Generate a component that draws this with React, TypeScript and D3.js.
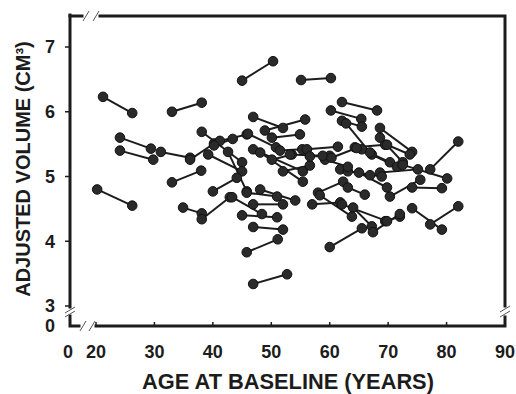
import * as d3 from "d3";

// baseline -> follow-up pairs, one per subject
const baselineAge = [
  21.2, 33.0, 24.1, 24.1, 31.1, 33.0, 20.2, 34.9, 45.0, 55.1, 62.1, 60.2, 62.1, 46.9, 48.9, 50.1,
  38.1, 39.2, 36.1, 41.2, 40.0, 38.1, 43.3, 40.2, 42.6, 46.0, 51.5, 46.9, 48.1, 45.8, 48.1, 46.9,
  45.0, 46.9, 45.8, 46.9, 50.1, 52.0, 56.1, 56.6, 64.3, 65.5, 67.2, 62.8, 68.6, 68.6, 69.8, 77.2,
  72.5, 68.6, 74.1, 70.3, 74.1, 77.2, 69.5, 61.8, 63.1, 58.0, 63.1, 57.0, 62.1, 64.0, 67.4, 60.0,
  58.3, 59.2, 53.2, 60.3, 65.0,
];
const baselineVolume = [
  6.23, 6.0, 5.6, 5.4, 5.38, 4.91, 4.8, 4.52, 6.48, 6.49, 6.15, 6.02, 5.86, 5.92, 5.71, 5.6,
  5.69, 5.34, 5.26, 5.55, 4.77, 4.34, 4.68, 5.48, 5.38, 5.66, 5.4, 5.42, 5.37, 4.75, 4.8, 4.57,
  4.4, 4.22, 3.83, 3.34, 5.26, 5.08, 5.42, 5.31, 5.45, 5.42, 5.34, 5.82, 5.75, 5.6, 5.49, 5.11,
  5.18, 5.06, 4.83, 4.69, 4.51, 4.26, 4.31, 5.11, 5.08, 4.75, 4.83, 4.57, 4.57, 4.52, 4.14, 3.91,
  4.71, 5.26, 5.34, 5.29, 5.06,
];
const followupAge = [
  26.2, 38.1, 29.4, 29.8, 36.1, 38.0, 26.2, 38.1, 50.3, 60.2, 68.1, 65.4, 65.5, 52.0, 55.8, 54.9,
  45.0, 45.0, 40.2, 45.8, 44.1, 42.9, 48.4, 43.4, 45.8, 50.8, 55.3, 55.4, 55.4, 51.0, 54.1, 52.0,
  51.0, 52.0, 51.1, 52.7, 53.5, 56.6, 61.4, 60.0, 69.5, 70.3, 71.5, 66.9, 74.1, 72.5, 73.7, 82.0,
  80.1, 75.1, 79.2, 75.5, 79.2, 82.0, 72.0, 66.9, 68.9, 62.3, 66.0, 61.8, 69.8, 67.2, 72.0, 65.5,
  63.8, 63.1, 58.8, 64.6, 69.8,
];
const followupVolume = [
  5.98, 6.14, 5.43, 5.26, 5.29, 5.09, 4.55, 4.43, 6.78, 6.52, 6.02, 5.89, 5.77, 5.75, 5.88, 5.65,
  5.22, 5.08, 5.51, 5.65, 4.98, 4.68, 4.42, 5.58, 4.77, 5.45, 5.42, 5.08, 4.92, 4.69, 4.63, 4.57,
  4.37, 4.18, 4.03, 3.49, 5.34, 5.17, 5.46, 5.32, 5.49, 5.22, 5.15, 5.37, 5.38, 5.22, 5.34, 5.54,
  4.97, 5.11, 4.82, 4.95, 4.18, 4.54, 4.38, 5.02, 5.0, 4.92, 4.72, 4.6, 4.31, 4.23, 4.42, 4.2,
  4.38, 5.15, 5.32, 5.44, 4.83,
];

const xTicks = [20, 30, 40, 50, 60, 70, 80, 90];
const yTicks = [3, 4, 5, 6, 7];

const W = 516;
const H = 394;
const left = 70, right = 505, top = 15, bottom = 326;
const font = "'Liberation Sans', Arial, sans-serif";
const ink = "#1c1c1c";

export default function App() {
  const x = d3.scaleLinear().domain([20, 90]).range([96, 505]);
  const y = d3.scaleLinear().domain([3, 7]).range([306, 47]);

  const pairs = baselineAge.map((a, i) => ({
    x1: x(a), y1: y(baselineVolume[i]), x2: x(followupAge[i]), y2: y(followupVolume[i]),
  }));

  // frame pieces with axis breaks
  const frame = [
    `M${left},${top + 1}H${left + 12}`,
    `M${left + 30},${top + 1}H${right}V${bottom - 20}`,
    `M${right},${bottom - 9}V${bottom}H${left + 26}`,
    `M${left + 9},${bottom}H${left}V${bottom - 10}`,
    `M${left},${bottom - 19}V${top}`,
  ];
  const slash = (cx: number, cy: number, horiz: boolean) =>
    horiz ? `M${cx - 3},${cy + 5}L${cx + 3},${cy - 5}` : `M${cx - 5},${cy + 3}L${cx + 5},${cy - 3}`;
  const breaks = [
    slash(left + 16, top + 1, true), slash(left + 26, top + 1, true),
    slash(left + 13, bottom, true), slash(left + 22, bottom, true),
    slash(left, bottom - 16, false), slash(left, bottom - 12, false),
    slash(right, bottom - 17, false), slash(right, bottom - 12, false),
  ];

  return (
    <div style={{ position: "absolute", left: 0, top: 0 }}>
      <svg width={W} height={H} style={{ display: "block", background: "#fff" }}>
        <g fill="none" stroke={ink} strokeWidth={3} strokeLinecap="square">
          {frame.map((d, i) => <path key={i} d={d} />)}
        </g>
        <g fill="none" stroke="#555" strokeWidth={1}>
          {breaks.map((d, i) => <path key={i} d={d} />)}
        </g>

        {yTicks.map(t => (
          <g key={t}>
            <line x1={left - 5} x2={left} y1={y(t)} y2={y(t)} stroke={ink} strokeWidth={1.5} />
            <text x={55} y={y(t)} dy="0.36em" textAnchor="end" fontFamily={font} fontSize={18}
              fontWeight="bold" fill={ink}>{t}</text>
          </g>
        ))}
        <text x={55} y={bottom} dy="0.36em" textAnchor="end" fontFamily={font} fontSize={18}
          fontWeight="bold" fill={ink}>0</text>

        {xTicks.map(t => (
          <g key={t}>
            <line x1={x(t)} x2={x(t)} y1={bottom} y2={bottom - 4} stroke={ink} strokeWidth={1.5} />
            <text x={x(t)} y={352} dy="0.36em" textAnchor="middle" fontFamily={font} fontSize={18}
              fontWeight="bold" fill={ink}>{t}</text>
          </g>
        ))}
        <text x={68} y={352} dy="0.36em" textAnchor="middle" fontFamily={font} fontSize={18}
          fontWeight="bold" fill={ink}>0</text>

        <g stroke={ink} strokeWidth={2}>
          {pairs.map((p, i) => <line key={i} x1={p.x1} y1={p.y1} x2={p.x2} y2={p.y2} />)}
        </g>
        <g fill="#2a2a2a" stroke="#111" strokeWidth={1}>
          {pairs.map((p, i) => (
            <g key={i}>
              <circle cx={p.x1} cy={p.y1} r={4.8} />
              <circle cx={p.x2} cy={p.y2} r={4.8} />
            </g>
          ))}
        </g>

        <text x={288} y={381} dy="0.36em" textAnchor="middle" fontFamily={font} fontSize={21.8}
          fontWeight="bold" fill={ink}>AGE AT BASELINE (YEARS)</text>
        <text transform="translate(23,169) rotate(-90)" dy="0.36em" textAnchor="middle"
          fontFamily={font} fontSize={20} fontWeight="bold" fill={ink}>ADJUSTED VOLUME (CM³)</text>
      </svg>
    </div>
  );
}
